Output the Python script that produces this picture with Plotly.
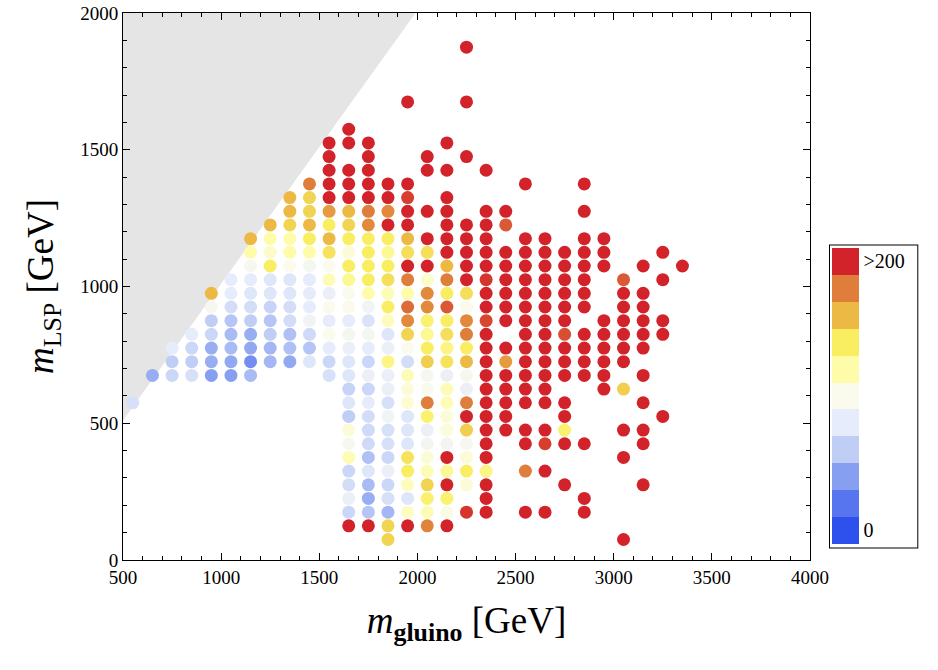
import plotly.graph_objects as go

# gluino mass of each grid column (GeV)
gluino_mass = [550, 650, 750, 850, 950, 1050, 1150, 1250, 1350, 1450,
               1550, 1650, 1750, 1850, 1950, 2050, 2150, 2250, 2350, 2450,
               2550, 2650, 2750, 2850, 2950, 3050, 3150, 3250, 3350]

# LSP masses (GeV) of the points in each column
lsp_mass = [
    [575],
    [675],
    [675, 725, 775],
    [675, 725, 775, 825],
    [675, 725, 775, 825, 875, 925, 975],
    [675, 725, 775, 825, 875, 925, 975, 1025],
    [675, 725, 775, 825, 875, 925, 975, 1025, 1075, 1125, 1175],
    [725, 775, 825, 875, 925, 975, 1025, 1075, 1125, 1175, 1225],
    [725, 775, 825, 875, 925, 975, 1025, 1075, 1125, 1175, 1225, 1275, 1325],
    [725, 775, 825, 875, 925, 975, 1025, 1075, 1125, 1175, 1225, 1275, 1325, 1375],
    [675, 725, 775, 825, 875, 925, 975, 1025, 1075, 1125, 1175, 1225, 1275, 1325,
     1375, 1425, 1475, 1525],
    [125, 175, 225, 275, 325, 375, 425, 475, 525, 575, 625, 675, 725, 775, 825, 875,
     925, 975, 1025, 1075, 1125, 1175, 1225, 1275, 1325, 1375, 1425, 1525, 1575],
    [125, 175, 225, 275, 325, 375, 425, 475, 525, 575, 625, 675, 725, 775, 825, 875,
     925, 975, 1025, 1075, 1125, 1175, 1225, 1275, 1325, 1375, 1425, 1475, 1525],
    [75, 125, 175, 225, 275, 325, 375, 425, 475, 525, 575, 625, 675, 725, 775, 825,
     875, 925, 975, 1025, 1075, 1125, 1175, 1225, 1275, 1325, 1375],
    [125, 175, 225, 275, 325, 375, 425, 475, 525, 575, 625, 675, 725, 775, 825, 875,
     925, 975, 1025, 1075, 1125, 1175, 1225, 1275, 1325, 1375, 1675],
    [125, 175, 225, 275, 325, 375, 425, 475, 525, 575, 625, 675, 725, 775, 825, 875,
     925, 975, 1025, 1075, 1125, 1175, 1275, 1425, 1475],
    [125, 175, 225, 275, 325, 375, 425, 475, 525, 575, 625, 675, 725, 775, 825, 875,
     925, 975, 1025, 1075, 1125, 1175, 1225, 1275, 1325, 1425, 1525],
    [175, 275, 325, 375, 425, 475, 525, 575, 625, 675, 725, 775, 825, 875, 925, 975,
     1025, 1075, 1125, 1175, 1225, 1475, 1675, 1875],
    [175, 225, 275, 325, 375, 425, 475, 525, 575, 625, 675, 725, 775, 825, 875, 925,
     975, 1025, 1075, 1125, 1175, 1225, 1275, 1425],
    [475, 525, 575, 625, 675, 725, 775, 875, 925, 975, 1025, 1075, 1125, 1225, 1275],
    [175, 325, 425, 475, 575, 625, 675, 725, 775, 825, 875, 925, 975, 1025, 1075,
     1125, 1175, 1375],
    [175, 325, 425, 475, 575, 625, 675, 725, 775, 825, 875, 925, 975, 1025, 1075,
     1125, 1175],
    [275, 425, 475, 525, 575, 675, 725, 775, 825, 875, 925, 975, 1025, 1075, 1125],
    [175, 225, 425, 675, 725, 775, 825, 925, 975, 1025, 1075, 1125, 1175, 1275, 1375],
    [625, 675, 725, 775, 825, 875, 1075, 1125, 1175],
    [75, 375, 475, 625, 725, 775, 825, 875, 925, 975, 1025],
    [275, 425, 475, 575, 675, 775, 825, 875, 925, 975, 1075],
    [525, 825, 875, 1025, 1125],
    [1075],
]

# colour bin of each point: 0 = "0", 10 = ">200" (20 events per bin)
signal_bin = [
    [3.6],
    [2.3],
    [3.3, 3.0, 4.0],
    [3.6, 3.0, 3.3, 4.0],
    [2.0, 2.3, 2.3, 3.3, 3.0, 4.8, 8.0],
    [2.0, 2.2, 2.6, 2.6, 2.8, 3.5, 4.0, 4.0],
    [2.6, 1.6, 2.2, 2.3, 3.0, 3.5, 3.8, 4.0, 4.8, 6.0, 8.0],
    [2.5, 2.5, 3.0, 2.8, 3.2, 3.8, 3.8, 7.0, 5.5, 6.0, 8.0],
    [2.2, 2.7, 2.7, 3.5, 3.5, 3.8, 3.8, 5.0, 6.0, 6.0, 7.5, 8.0, 8.0],
    [3.8, 2.8, 3.4, 4.5, 4.0, 4.0, 4.0, 4.7, 6.0, 7.0, 8.0, 7.5, 7.5, 9.0],
    [3.6, 3.3, 4.0, 5.0, 4.0, 5.0, 4.2, 5.8, 5.0, 7.2, 8.0, 7.0, 8.5, 10,
     10, 10, 10, 10],
    [10, 3.3, 4.2, 3.5, 3.3, 5.8, 4.8, 5.3, 3.0, 3.8, 3.2, 3.8, 3.8, 4.2, 4.7, 4.0,
     5.0, 5.0, 6.3, 7.0, 5.3, 7.0, 7.5, 8.0, 10, 10, 10, 10, 10],
    [10, 2.8, 2.3, 2.6, 3.8, 2.7, 3.4, 3.4, 3.5, 4.0, 3.3, 4.3, 3.3, 4.0, 4.7, 3.7,
     4.5, 6.0, 7.0, 7.0, 7.0, 7.0, 8.8, 9.0, 10, 10, 10, 10, 10],
    [7.5, 7.5, 2.5, 3.6, 3.3, 4.3, 3.3, 3.6, 3.6, 4.5, 3.6, 4.2, 4.2, 6.5, 4.2, 3.8,
     5.7, 7.0, 5.8, 7.3, 7.0, 6.3, 7.0, 10, 8.8, 10, 10],
    [10, 5.6, 3.8, 5.7, 7.0, 7.2, 3.8, 3.8, 3.8, 5.4, 5.3, 5.8, 3.5, 5.0, 7.5, 8.8,
     9.2, 6.0, 9.0, 10, 7.3, 8.0, 10, 10, 9.7, 10, 10],
    [8.9, 5.8, 6.8, 7.5, 5.8, 5.3, 4.6, 4.3, 6.8, 9.0, 4.9, 4.8, 7.6, 7.0, 6.3, 6.8,
     8.8, 8.8, 5.5, 10, 7.3, 10, 10, 10, 10],
    [10, 5.1, 6.8, 10, 6.3, 10, 4.6, 5.2, 5.3, 5.8, 5.8, 4.3, 7.2, 6.5, 7.3, 7.0,
     9.4, 7.0, 9.0, 8.0, 10, 10, 10, 10, 10, 10, 10],
    [9.8, 5.3, 7.0, 5.3, 4.8, 7.6, 10, 9.0, 4.3, 4.8, 8.0, 7.0, 9.0, 8.8, 5.0, 7.3,
     10, 10, 10, 10, 10, 10, 10, 10],
    [10, 10, 10, 6.5, 10, 10, 10, 10, 10, 10, 10, 10, 10, 10, 9.6, 10,
     10, 9.8, 10, 10, 10, 10, 10, 10],
    [10, 10, 10, 10, 10, 8.5, 10, 10, 10, 10, 10, 10, 10, 9.4, 10],
    [10, 9.0, 10, 10, 10, 10, 10, 10, 10, 10, 10, 10, 10, 10, 10,
     10, 10, 10],
    [10, 10, 9.7, 10, 10, 10, 10, 10, 10, 10, 10, 10, 10, 10, 10,
     10, 10],
    [10, 10, 6.8, 10, 10, 10, 10, 10, 9.5, 10, 10, 10, 10, 10, 10],
    [10, 10, 10, 10, 10, 10, 10, 10, 10, 10, 10, 10, 10, 10, 10],
    [10, 10, 10, 10, 10, 10, 10, 10, 10],
    [10, 10, 10, 7.6, 10, 10, 10, 10, 10, 10, 9.4],
    [10, 10, 10, 10, 10, 10, 10, 10, 10, 10, 10],
    [10, 10, 10, 10, 10],
    [10],
]

# kinematically excluded corner (m_LSP > m_gluino)
excluded_gluino = [500, 1990, 500]
excluded_lsp = [510, 2000, 2000]

colorbar_labels = ["0", ">200\u00a0\u00a0\u00a0"]

BAND_COLORS = [
    "#2E50EC", "#5775EE", "#879FF0", "#C0CEF6", "#E6ECFB", "#FAFBEC",
    "#FEFCA8", "#F9EE61", "#ECB945", "#DF7D3A", "#D2232A",
]
FONT = "Liberation Serif"


def _rgb(h):
    return tuple(int(h[i:i + 2], 16) for i in (1, 3, 5))


def bin_color(v):
    v = max(0.0, min(10.0, float(v)))
    i = min(int(v), 9)
    t = v - i
    a, b = _rgb(BAND_COLORS[i]), _rgb(BAND_COLORS[i + 1])
    r, g, bl = (round(a[k] + (b[k] - a[k]) * t) for k in range(3))
    return f"rgb({r},{g},{bl})"


px, py, pc = [], [], []
for mg, lsps, bins in zip(gluino_mass, lsp_mass, signal_bin):
    for ml, s in zip(lsps, bins):
        px.append(mg)
        py.append(ml)
        pc.append(bin_color(s))

n = len(BAND_COLORS)
stepped = []
for i, c in enumerate(BAND_COLORS):
    stepped.append([i / n, c])
    stepped.append([(i + 1) / n, c])

fig = go.Figure()

fig.add_trace(go.Scatter(
    x=excluded_gluino, y=excluded_lsp,
    mode="lines", fill="toself", fillcolor="#E5E5E5",
    line=dict(width=0, color="#E5E5E5"),
    hoverinfo="skip", showlegend=False,
))

fig.add_trace(go.Scatter(
    x=px, y=py, mode="markers",
    marker=dict(size=13, color=pc, line=dict(width=0)),
    showlegend=False,
))

# colour legend only (point sits outside the visible range)
fig.add_trace(go.Scatter(
    x=[0], y=[-1000], mode="markers",
    marker=dict(
        size=1, color=[0], colorscale=stepped, cmin=0, cmax=n,
        showscale=True,
        colorbar=dict(
            x=1.029, xanchor="left", xref="paper",
            y=0.3007, yanchor="middle",
            len=302, lenmode="pixels",
            thickness=27, thicknessmode="pixels",
            xpad=2, ypad=3,
            outlinewidth=0,
            borderwidth=1, bordercolor="black",
            tickvals=[0.5, n - 0.5], ticktext=colorbar_labels,
            ticks="", ticklen=0,
            tickfont=dict(family=FONT, size=20, color="black"),
        ),
    ),
    hoverinfo="skip", showlegend=False,
))

axis_common = dict(
    showline=True, linecolor="black", linewidth=1, mirror="allticks",
    ticks="inside", ticklen=7, tickcolor="black", tickwidth=1,
    showgrid=False, zeroline=False, ticklabeloverflow="allow",
    tickfont=dict(family=FONT, size=19, color="black"),
    minor=dict(ticks="inside", ticklen=4, tickcolor="black", dtick=100, showgrid=False),
)

fig.update_xaxes(
    range=[500, 4000], tick0=500, dtick=500,
    title=dict(text="<i>m</i><sub><b>gluino</b></sub> [GeV]",
               font=dict(family=FONT, size=37, color="black"), standoff=20),
    **axis_common,
)
fig.update_yaxes(
    range=[0, 2000], tick0=0, dtick=500,
    title=dict(text="<i>m</i><sub>LSP</sub> [GeV]",
               font=dict(family=FONT, size=37, color="black"), standoff=15),
    **axis_common,
)

fig.update_layout(
    width=938, height=670,
    margin=dict(l=123, r=128, t=13, b=110, autoexpand=False),
    paper_bgcolor="white", plot_bgcolor="white",
    font=dict(family=FONT, color="black"),
)

# drop the page's default body margin so the figure fills the window
fig.write_html(
    "out.html",
    config={"displayModeBar": False},
    post_script="document.body.style.margin = '0';",
)
